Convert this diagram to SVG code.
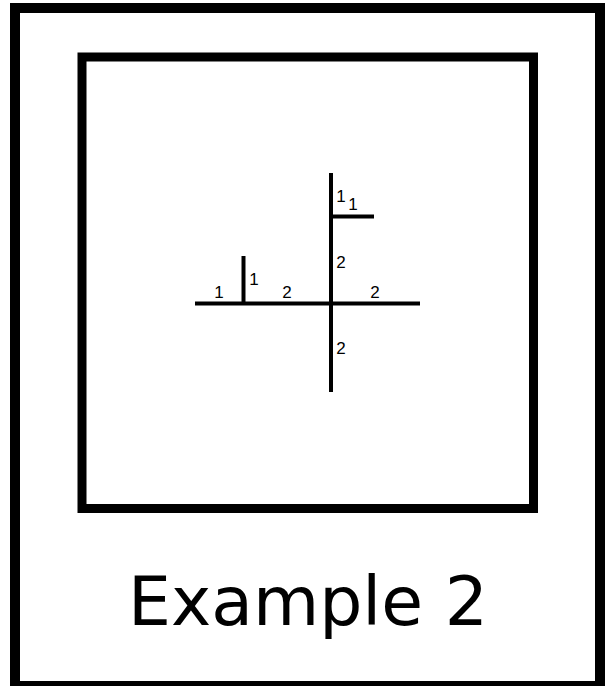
<svg xmlns="http://www.w3.org/2000/svg" width="605" height="686" viewBox="0 0 605 686">
<style>
.frame{fill:none;stroke:#000}
.ln{stroke:#000;stroke-width:4;fill:none}
.lbl{font-family:"Liberation Sans",Arial,sans-serif;font-size:17px;fill:#000}
.title{font-family:"DejaVu Sans",Verdana,sans-serif;font-size:68px;fill:#000}
</style>
<rect width="605" height="686" fill="#fff"/>
<g id="outer-frame"><rect class="frame" x="15" y="8" width="585" height="678" stroke-width="10"/></g>
<g id="inner-box"><rect class="frame" x="82" y="57" width="451.5" height="451.5" stroke-width="9"/></g>
<g id="connectors">
<line class="ln" x1="331" y1="173" x2="331" y2="392"/>
<line class="ln" x1="195" y1="303.5" x2="420" y2="303.5"/>
<line class="ln" x1="243.5" y1="256" x2="243.5" y2="304"/>
<line class="ln" x1="331" y1="216.5" x2="374" y2="216.5"/>
</g>
<g id="labels">
<text class="lbl" x="219" y="298" text-anchor="middle">1</text>
<text class="lbl" x="254" y="285" text-anchor="middle">1</text>
<text class="lbl" x="287" y="298" text-anchor="middle">2</text>
<text class="lbl" x="375" y="298" text-anchor="middle">2</text>
<text class="lbl" x="341" y="268" text-anchor="middle">2</text>
<text class="lbl" x="341" y="354" text-anchor="middle">2</text>
<text class="lbl" x="341" y="202" text-anchor="middle">1</text>
<text class="lbl" x="353" y="210" text-anchor="middle">1</text>
</g>
<g id="title"><text class="title" x="308" y="625" text-anchor="middle">Example 2</text></g>
</svg>
